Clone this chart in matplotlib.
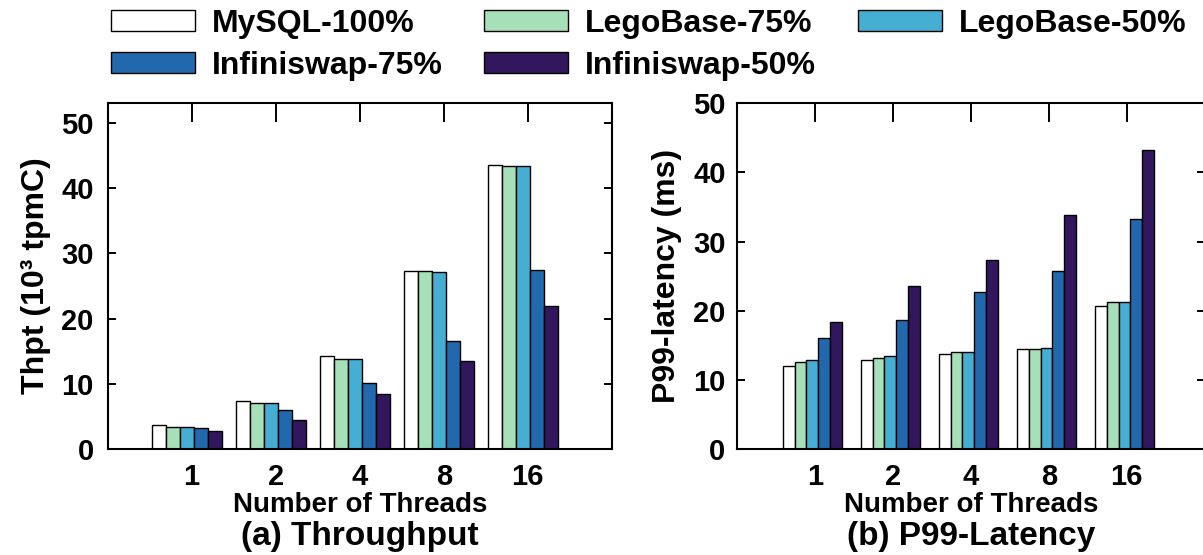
import numpy as np
import matplotlib
matplotlib.use('Agg')
import matplotlib.pyplot as plt
from matplotlib.ticker import MultipleLocator

threads = ['1', '2', '4', '8', '16']
series_names = ['MySQL-100%', 'LegoBase-75%', 'LegoBase-50%', 'Infiniswap-75%', 'Infiniswap-50%']

# throughput, 10^3 tpmC
mysql_thpt = [3.7, 7.4, 14.2, 27.3, 43.6]
lego75_thpt = [3.4, 7.1, 13.8, 27.3, 43.4]
lego50_thpt = [3.4, 7.1, 13.8, 27.1, 43.4]
inf75_thpt = [3.2, 6.0, 10.1, 16.6, 27.5]
inf50_thpt = [2.8, 4.4, 8.4, 13.5, 21.9]

# p99 latency, ms
mysql_lat = [12.0, 12.8, 13.8, 14.4, 20.7]
lego75_lat = [12.6, 13.2, 14.0, 14.4, 21.3]
lego50_lat = [12.8, 13.4, 14.0, 14.6, 21.3]
inf75_lat = [16.0, 18.7, 22.7, 25.8, 33.2]
inf50_lat = [18.4, 23.5, 27.4, 33.9, 43.2]

colors = ['#ffffff', '#a6dfb8', '#46aed3', '#2268ad', '#32175e']

plt.rcParams['font.family'] = ['Liberation Sans', 'DejaVu Sans']
plt.rcParams['font.weight'] = 'bold'


def draw_panel(ax, data, ymax, width, start, ylabel, ylabel_x, title, ypad):
    x = np.arange(len(threads))
    for i, vals in enumerate(data):
        ax.bar(x + start + width * (i + 0.5), vals, width, color=colors[i],
               edgecolor='black', linewidth=1.0, label=series_names[i], zorder=2)
    ax.set_xlim(-1, 5)
    ax.set_ylim(0, ymax)
    ax.set_xticks(x)
    ax.set_xticklabels(threads)
    ax.yaxis.set_major_locator(MultipleLocator(10))
    ax.tick_params(axis='x', direction='in', top=True, bottom=False, length=13.7,
                   width=1.4, labelsize=21, pad=10)
    ax.tick_params(axis='y', direction='in', left=True, right=True, length=5.8,
                   width=1.4, labelsize=21, pad=ypad)
    for sp in ax.spines.values():
        sp.set_linewidth(1.5)

    ax.set_ylabel(ylabel, fontsize=23, fontweight='bold')
    ax.yaxis.label.set_va('center')
    ax.yaxis.set_label_coords(ylabel_x, 0.5)
    ax.set_xlabel('Number of Threads', fontsize=20, fontweight='bold')
    ax.xaxis.label.set_va('center')
    ax.xaxis.set_label_coords(0.5, -0.163)
    ax.text(0.5, -0.254, title, transform=ax.transAxes, ha='center', va='center',
            fontsize=24, fontweight='bold')


fig = plt.figure(figsize=(12.03, 5.55), dpi=100)
ax1 = fig.add_axes([0.0895, 0.191, 0.419, 0.623])
ax2 = fig.add_axes([0.6124, 0.191, 0.3891, 0.623])

draw_panel(ax1, [mysql_thpt, lego75_thpt, lego50_thpt, inf75_thpt, inf50_thpt],
           53, 0.166, -0.4745, 'Thpt (10³ tpmC)', -0.143, '(a) Throughput', 10)
draw_panel(ax2, [mysql_lat, lego75_lat, lego50_lat, inf75_lat, inf50_lat],
           50, 0.153, -0.412, 'P99-latency (ms)', -0.149, '(b) P99-Latency', 8)

# legend fills column-wise, reorder so rows read like the original
handles, labels = ax1.get_legend_handles_labels()
order = [0, 3, 1, 4, 2]
fig.legend([handles[i] for i in order], [labels[i] for i in order], ncol=3,
           loc='upper left', bbox_to_anchor=(0.0923, 0.984), frameon=False,
           fontsize=23, handlelength=2.63, handleheight=0.63, handletextpad=0.53,
           columnspacing=1.3, labelspacing=0.37, borderpad=0, borderaxespad=0)

fig.savefig('out.png', dpi=100)
